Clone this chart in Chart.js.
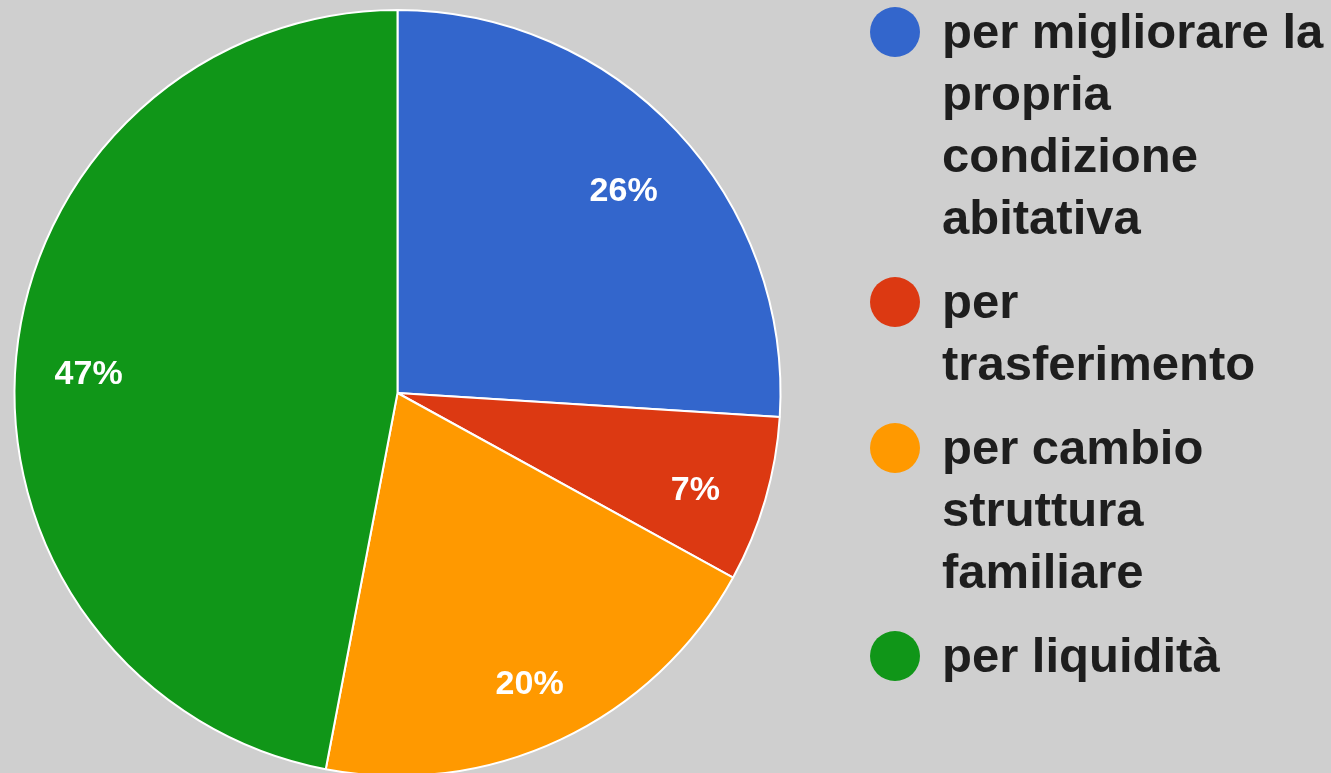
<!DOCTYPE html>
<html>
<head>
	<meta charset="UTF-8">
	<title>Motivi di vendita</title>
	<script src="https://cdn.jsdelivr.net/npm/chart.js"></script>
	<style>
		html, body { margin: 0; padding: 0; background: #cfcfcf; overflow: hidden; }
		#wrap { position: relative; width: 1331px; height: 790px; }
	</style>
</head>
<body>
	<div id="wrap">
		<canvas id="pie-chart"></canvas>
	</div>

	<script>
		// legend text, one array per item (each entry is a line)
		const labels = [
			['per migliorare la', 'propria', 'condizione', 'abitativa'],
			['per', 'trasferimento'],
			['per cambio', 'struttura', 'familiare'],
			['per liquidità']
		];
		const values = [26, 7, 20, 47];
		const colors = ['#3366cc', '#dc3912', '#ff9900', '#109618'];

		const FONT = '"Liberation Sans", Arial, sans-serif';

		// percentage text inside every slice
		const sliceLabels = {
			id: 'sliceLabels',
			afterDatasetsDraw(chart) {
				const ctx = chart.ctx;
				const meta = chart.getDatasetMeta(0);
				const total = values.reduce((a, b) => a + b, 0);
				ctx.save();
				ctx.font = 'bold 34px ' + FONT;
				ctx.fillStyle = '#ffffff';
				ctx.textAlign = 'center';
				ctx.textBaseline = 'alphabetic';
				meta.data.forEach((arc, i) => {
					const p = arc.getProps(['x', 'y', 'startAngle', 'endAngle', 'outerRadius'], true);
					const mid = (p.startAngle + p.endAngle) / 2;
					const r = p.outerRadius * 0.81;
					const pct = Math.round(values[i] / total * 100) + '%';
					// baseline sits a bit under the label point
					ctx.fillText(pct, p.x + Math.cos(mid) * r, p.y + Math.sin(mid) * r + 20);
				});
				ctx.restore();
			}
		};

		// legend on the right: coloured dot + wrapped text
		const sideLegend = {
			id: 'sideLegend',
			afterDraw(chart) {
				const ctx = chart.ctx;
				const lineH = 62;
				const gap = 22;
				let y = 32;
				ctx.save();
				ctx.font = 'bold 49px ' + FONT;
				ctx.textAlign = 'left';
				ctx.textBaseline = 'alphabetic';
				labels.forEach((lines, i) => {
					ctx.fillStyle = colors[i];
					ctx.beginPath();
					ctx.arc(895, y, 25, 0, Math.PI * 2);
					ctx.fill();
					ctx.fillStyle = '#1e1e1e';
					lines.forEach((t, j) => {
						ctx.fillText(t, 942, y + 16 + j * lineH);
					});
					y += lines.length * lineH + gap;
				});
				ctx.restore();
			}
		};

		const ctx = document.getElementById('pie-chart').getContext('2d');
		new Chart(ctx, {
			type: 'pie',
			data: {
				labels: labels.map(l => l.join(' ')),
				datasets: [{
					data: values,
					backgroundColor: colors,
					borderColor: '#ffffff',
					borderWidth: 2
				}]
			},
			options: {
				responsive: true,
				maintainAspectRatio: false,
				animation: false,
				layout: {
					padding: { left: 13, top: 9, right: 549, bottom: 13 }
				},
				plugins: {
					legend: { display: false },
					tooltip: { enabled: false }
				}
			},
			plugins: [sliceLabels, sideLegend]
		});
	</script>
</body>
</html>
